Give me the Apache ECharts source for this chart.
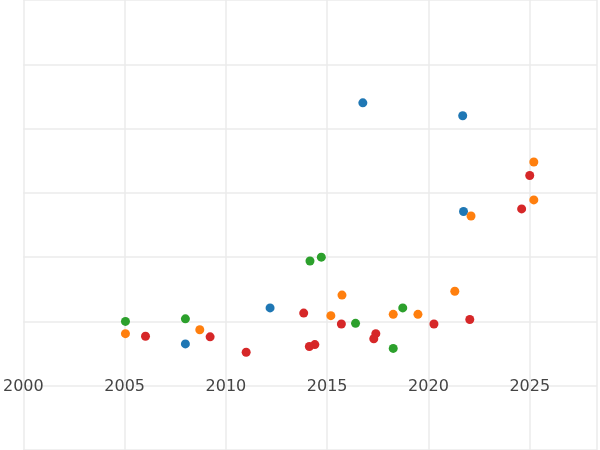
<!DOCTYPE html>
<html><head><meta charset="utf-8">
<script src="https://cdn.jsdelivr.net/npm/echarts@6/dist/echarts.min.js"></script>
<style>html,body{margin:0;padding:0;background:#fff}#c{width:600px;height:450px}</style>
</head><body><div id="c"></div>
<script>
// [year, value]
var blueSeries = [[2016.76,4.40],[2021.69,4.20],[2021.73,2.71],[2012.18,1.21],[2008.0,0.65]];
var orangeSeries = [[2025.2,3.48],[2025.2,2.89],[2022.1,2.64],[2015.73,1.41],[2015.18,1.09],[2021.3,1.47],
	[2018.26,1.11],[2019.48,1.11],[2008.71,0.87],[2005.04,0.81]];
var greenSeries = [[2014.71,2.0],[2014.15,1.94],[2018.73,1.21],[2016.4,0.97],[2018.26,0.58],[2008.0,1.04],[2005.04,1.0]];
var redSeries = [[2025.0,3.27],[2024.6,2.75],[2022.04,1.03],[2020.27,0.96],[2015.7,0.96],[2017.4,0.81],[2017.3,0.73],
	[2013.84,1.13],[2014.39,0.64],[2014.12,0.61],[2011.0,0.52],[2009.22,0.76],[2006.03,0.77]];
var colors = ['#1f77b4','#ff7f0e','#2ca02c','#d62728'];

var chart = echarts.init(document.getElementById('c'));
function s(data, i) {
	return { type: 'scatter', data: data, symbolSize: 9, itemStyle: { color: colors[i], opacity: 1 } };
}
// grid overflows the canvas so edge split lines fall outside the picture
chart.setOption({
	animation: false,
	grid: { left: -78, right: -40, top: -39, height: 544.6 },
	xAxis: {
		type: 'value', min: 2000, max: 2028.32, interval: 5, offset: -77.6,
		axisLine: { show: false }, axisTick: { show: false },
		axisLabel: { color: '#444', fontSize: 16, margin: 6, fontFamily: 'DejaVu Sans',
			formatter: function (v) { return v % 5 === 0 ? String(v) : ''; } },
		splitLine: { lineStyle: { color: '#ebebeb', width: 1.5 } }
	},
	yAxis: {
		type: 'value', min: -1, max: 6, interval: 1,
		axisLine: { show: false }, axisTick: { show: false }, axisLabel: { show: false },
		splitLine: { lineStyle: { color: '#ebebeb', width: 1.5 } }
	},
	series: [s(blueSeries,0), s(orangeSeries,1), s(greenSeries,2), s(redSeries,3)]
});
</script></body></html>
